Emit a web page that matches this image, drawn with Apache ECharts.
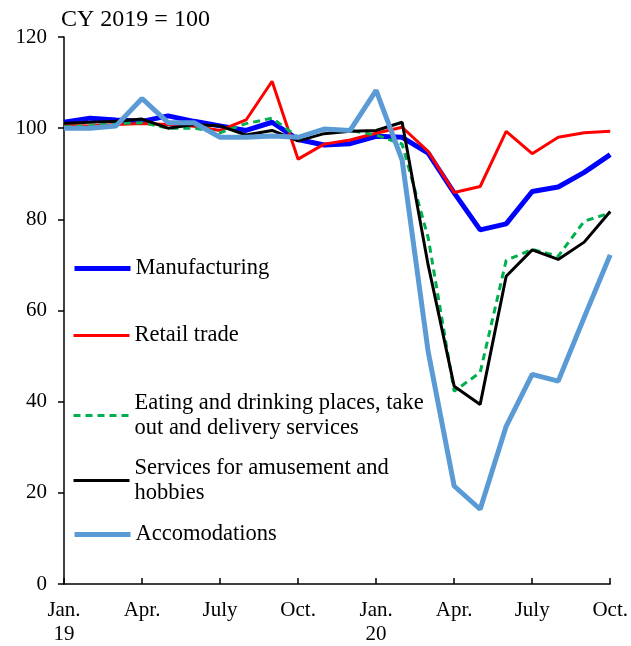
<!DOCTYPE html>
<html>
<head>
<meta charset="utf-8">
<script src="https://cdn.jsdelivr.net/npm/echarts@6/dist/echarts.min.js"></script>
<style>
  html, body { margin: 0; padding: 0; background: #fff; }
  #chart { width: 631px; height: 646px; }
</style>
</head>
<body>
<div id="chart"></div>
<script>
// months Jan 2019 .. Oct 2020
var months = ['Jan.\n19', 'Feb.', 'Mar.', 'Apr.', 'May', 'June', 'July', 'Aug.', 'Sep.', 'Oct.', 'Nov.', 'Dec.',
              'Jan.\n20', 'Feb.', 'Mar.', 'Apr.', 'May', 'June', 'July', 'Aug.', 'Sep.', 'Oct.'];

var manufacturing = [101.3, 102.2, 101.8, 101.5, 102.7, 101.5, 100.5, 99.5, 101.3, 97.5, 96.3, 96.6,
                     98.2, 98.0, 94.5, 85.8, 77.7, 79.0, 86.1, 87.1, 90.3, 94.2];
var retail = [100.6, 100.5, 100.8, 101.0, 100.8, 100.4, 99.5, 101.8, 110.3, 93.2, 96.5, 97.4,
              98.9, 100.2, 94.9, 85.9, 87.2, 99.3, 94.4, 98.0, 99.0, 99.3];
var eating = [100.3, 100.5, 101.0, 101.2, 100.0, 100.0, 99.0, 101.0, 102.2, 98.0, 99.6, 99.5,
              98.5, 96.5, 76.0, 42.3, 46.4, 71.0, 73.4, 71.9, 79.6, 81.4];
var amusement = [101.1, 101.3, 101.5, 102.0, 100.0, 100.8, 100.5, 98.5, 99.5, 97.2, 98.8, 99.3,
                 99.5, 101.3, 70.0, 43.4, 39.4, 67.5, 73.3, 71.2, 75.0, 81.7];
var accomodations = [100.0, 100.0, 100.5, 106.5, 101.2, 101.2, 98.0, 98.0, 98.3, 98.0, 99.8, 99.5,
                     108.3, 93.0, 51.0, 21.5, 16.4, 34.6, 46.0, 44.5, 58.5, 72.2];

var names = ['Manufacturing', 'Retail trade', 'Eating and drinking places, take\nout and delivery services',
             'Services for amusement and\nhobbies', 'Accomodations'];

var font = 'Liberation Serif';
var chart = echarts.init(document.getElementById('chart'));

function mkLegend(name, top, twoLine, width, type) {
  return {
    data: [name],
    left: 72,
    top: top,
    itemWidth: 56,
    itemHeight: 14,
    itemGap: 0,
    padding: 0,
    itemStyle: { opacity: 0 },
    lineStyle: { width: width, type: type || 'solid' },
    textStyle: {
      fontFamily: font,
      fontSize: 22.5,
      color: '#000',
      lineHeight: 25,
      padding: twoLine ? [25, 0, 0, 0] : 0
    }
  };
}

function mkSeries(name, data, color, width, type) {
  return {
    name: name,
    type: 'line',
    data: data,
    symbol: 'none',
    showSymbol: false,
    animation: false,
    lineStyle: { color: color, width: width, type: type || 'solid' },
    itemStyle: { color: color }
  };
}

var option = {
  animation: false,
  title: {
    text: 'CY 2019 = 100',
    left: 56,
    top: 3,
    textStyle: { fontFamily: font, fontSize: 24, fontWeight: 'normal', color: '#000' }
  },
  legend: [
    mkLegend(names[0], 256, false, 5),
    mkLegend(names[1], 323, false, 3),
    mkLegend(names[2], 378, true, 3, [7, 5]),
    mkLegend(names[3], 443, true, 3),
    mkLegend(names[4], 522, false, 5)
  ],
  grid: { left: 64, right: 18, top: 37, bottom: 61 },
  xAxis: {
    type: 'category',
    data: months,
    boundaryGap: false,
    axisLine: { lineStyle: { color: '#000', width: 1.5 } },
    axisTick: { inside: true, length: 6, interval: 2, lineStyle: { color: '#000', width: 1.5 } },
    axisLabel: {
      interval: 2,
      margin: 14,
      fontFamily: font,
      fontSize: 21,
      color: '#000',
      lineHeight: 24
    }
  },
  yAxis: {
    type: 'value',
    min: 0,
    max: 120,
    interval: 20,
    splitLine: { show: false },
    axisLine: { show: true, lineStyle: { color: '#000', width: 1.5 } },
    axisTick: { show: true, length: 6, lineStyle: { color: '#000', width: 1.5 } },
    axisLabel: { margin: 17, fontFamily: font, fontSize: 21, color: '#000' }
  },
  series: [
    mkSeries(names[0], manufacturing, '#0000FF', 5),
    mkSeries(names[1], retail, '#FF0000', 3),
    mkSeries(names[2], eating, '#00B050', 3, [7, 5]),
    mkSeries(names[3], amusement, '#000000', 3),
    mkSeries(names[4], accomodations, '#5B9BD5', 5)
  ]
};

chart.setOption(option);
</script>
</body>
</html>
